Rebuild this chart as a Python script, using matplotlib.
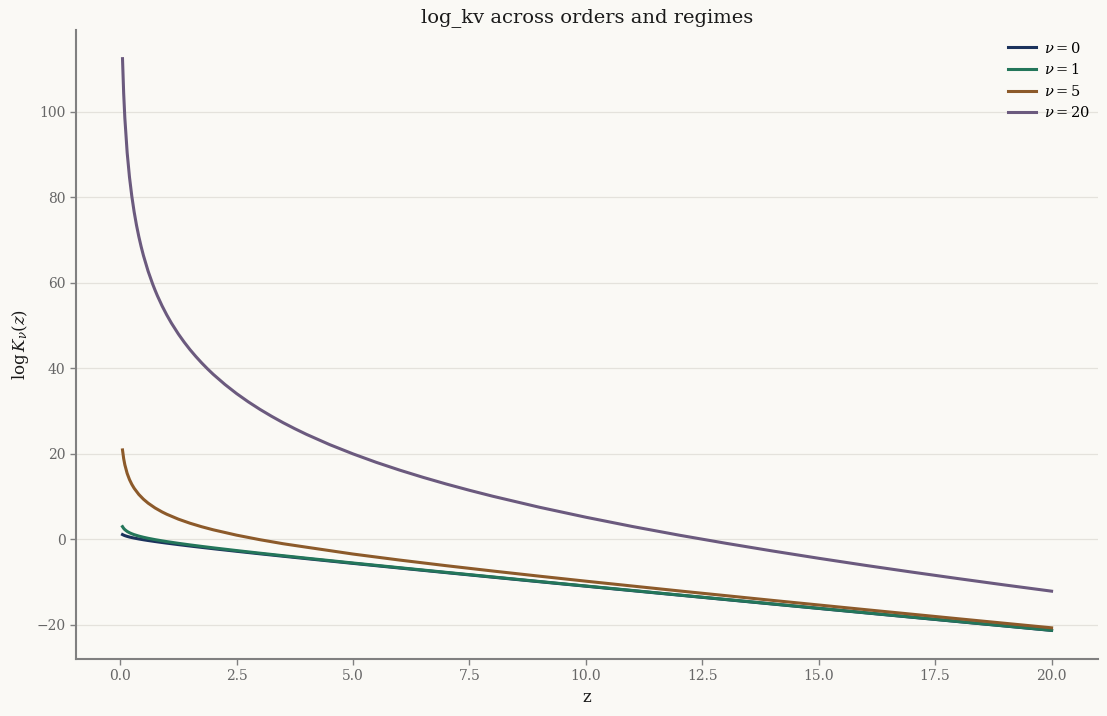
import matplotlib
matplotlib.use("Agg")
import matplotlib.pyplot as plt

z = [0.05, 0.075, 0.1, 0.15, 0.2, 0.25, 0.3, 0.4, 0.5, 0.6, 0.75, 0.9, 1.0,
     1.25, 1.5, 1.75, 2.0, 2.5, 3.0, 3.5, 4.0, 5.0, 6.0, 7.0, 8.0, 9.0, 10.0,
     12.0, 14.0, 16.0, 18.0, 20.0]

logk_nu0 = [1.136, 0.997, 0.887, 0.708, 0.561, 0.433, 0.317, 0.108, -0.079,
            -0.252, -0.493, -0.720, -0.865, -1.212, -1.543, -1.862, -2.173,
            -2.775, -3.360, -3.932, -4.495, -5.602, -6.689, -7.764, -8.829,
            -9.886, -10.937, -13.027, -15.102, -17.168, -19.226, -21.278]
logk_nu1 = [2.991, 2.581, 2.288, 1.868, 1.564, 1.321, 1.117, 0.781, 0.505,
            0.265, -0.052, -0.333, -0.508, -0.911, -1.282, -1.632, -1.967,
            -2.605, -3.215, -3.806, -4.383, -5.510, -6.612, -7.697, -8.770,
            -9.833, -10.890, -12.987, -15.068, -17.138, -19.199, -21.254]
logk_nu5 = [20.929, 18.902, 17.463, 15.435, 13.995, 12.878, 11.965, 10.522,
            9.401, 8.482, 7.354, 6.427, 5.889, 4.739, 3.786, 2.967, 2.244,
            0.999, -0.064, -1.008, -1.818, -3.420, -4.825, -6.138, -7.387,
            -8.591, -9.763, -12.037, -14.247, -16.415, -18.554, -20.671]

z_nu20 = [0.05, 0.075, 0.1, 0.15, 0.2, 0.25, 0.3, 0.35, 0.4, 0.45,
          0.5, 0.6, 0.7, 0.75, 0.8, 0.9, 1.0, 1.1, 1.25, 1.375,
          1.5, 1.625, 1.75, 1.875, 2.0, 2.25, 2.5, 2.75, 3.0, 3.25,
          3.5, 3.75, 4.0, 4.5, 5.0, 5.5, 6.0, 6.5, 7.0, 7.5,
          8.0, 9.0, 10.0, 11.0, 12.0, 13.0, 14.0, 15.0, 16.0, 17.0,
          18.0, 19.0, 20.0]
logk_nu20 = [112.42, 104.32, 98.56, 90.45, 84.70, 80.24, 76.59, 73.50, 70.83, 68.48,
             66.37, 62.72, 59.64, 58.26, 56.96, 54.61, 52.50, 50.59, 48.03, 46.12,
             44.37, 42.77, 41.28, 39.89, 38.59, 36.23, 34.10, 32.18, 30.42, 28.80,
             27.29, 25.89, 24.57, 22.16, 20.00, 18.02, 16.21, 14.53, 12.96, 11.49,
             10.10, 7.53, 5.19, 3.02, 1.00, -0.89, -2.69, -4.41, -6.06, -7.64,
             -9.17, -10.66, -12.10]

labels = [r"$\nu = 0$", r"$\nu = 1$", r"$\nu = 5$", r"$\nu = 20$"]
colors = ["#1b325c", "#23765a", "#8c5a2a", "#6b5a7e"]

bg = "#faf9f5"
plt.rcParams["font.family"] = ["DejaVu Serif"]
plt.rcParams["mathtext.fontset"] = "dejavuserif"

fig = plt.figure(figsize=(11.07, 7.16), dpi=100, facecolor=bg)
ax = fig.add_axes([0.0687, 0.0796, 0.9232, 0.8784])
ax.set_facecolor(bg)

series = [(z, logk_nu0), (z, logk_nu1), (z, logk_nu5), (z_nu20, logk_nu20)]
for (xs, ys), lab, c in zip(series, labels, colors):
    ax.plot(xs, ys, color=c, lw=2.2, label=lab)

ax.set_title("log_kv across orders and regimes", fontsize=14, color="#1a1a1a")
ax.set_xlabel("z", fontsize=12, color="#1a1a1a")
ax.set_ylabel(r"$\log K_\nu(z)$", fontsize=12, color="#1a1a1a")

ax.grid(axis="y", color="#e4e2dc", lw=0.9)
ax.set_axisbelow(True)
for s in ["top", "right"]:
    ax.spines[s].set_visible(False)
for s in ["left", "bottom"]:
    ax.spines[s].set_color("#808080")
    ax.spines[s].set_linewidth(1.5)
ax.tick_params(axis="both", colors="#808080", labelcolor="#666666",
               labelsize=10, length=4, width=1)

leg = ax.legend(loc="upper right", bbox_to_anchor=(1.0, 0.995), frameon=False,
                fontsize=10.5, handlelength=1.9, handletextpad=0.6,
                borderaxespad=0.1, labelspacing=0.45)

fig.savefig("out.png", dpi=100, facecolor=bg)
